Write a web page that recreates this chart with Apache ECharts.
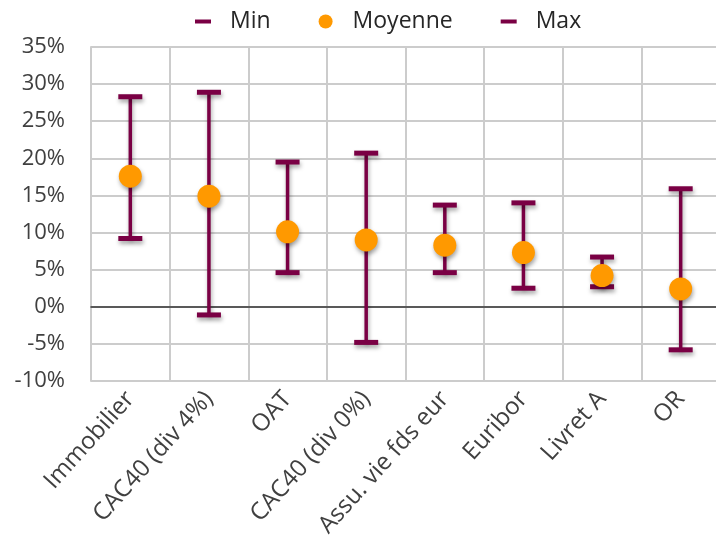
<!DOCTYPE html>
<html>
<head>
<meta charset="utf-8">
<script src="https://cdn.jsdelivr.net/npm/echarts@6/dist/echarts.min.js"></script>
<style>
  html, body { margin: 0; padding: 0; background: #fff; }
  #chart { width: 716px; height: 538px; }
</style>
</head>
<body>
<div id="chart"></div>
<script>
// Rendements annuels (%) par classe d'actifs
const categories = ['Immobilier', 'CAC40 (div 4%)', 'OAT', 'CAC40 (div 0%)', 'Assu. vie fds eur', 'Euribor', 'Livret A', 'OR'];
const minValues  = [9.2, -1.1, 4.6, -4.8, 4.6, 2.5, 2.7, -5.8];
const meanValues = [17.6, 14.9, 10.1, 9.0, 8.3, 7.3, 4.2, 2.4];
const maxValues  = [28.3, 28.9, 19.5, 20.7, 13.7, 14.0, 6.7, 15.9];
const yTicks = { min: -10, max: 35, step: 5 };

const maroon = '#7A0044';
const orange = '#FF9900';
const shadow = { shadowBlur: 4, shadowOffsetX: 1, shadowOffsetY: 3, shadowColor: 'rgba(0,0,0,0.35)' };
const font = '"Open Sans", sans-serif';

const rangeData = categories.map((c, i) => [i, minValues[i], maxValues[i]]);
const dashIcon = 'path://M0,0L16,0L16,4L0,4Z';

const chart = echarts.init(document.getElementById('chart'), null, { renderer: 'canvas' });
chart.setOption({
  animation: false,
  backgroundColor: '#fff',
  textStyle: { fontFamily: font },
  legend: {
    top: 10,
    left: 195,
    padding: 0,
    itemGap: 48,
    itemWidth: 16,
    itemHeight: 14,
    textStyle: { fontFamily: font, fontSize: 23, color: '#262626', padding: [0, 0, 0, 14] },
    data: [
      { name: 'Min', icon: dashIcon, itemStyle: { opacity: 1 } },
      { name: 'Moyenne', icon: 'circle', itemStyle: { opacity: 1 } },
      { name: 'Max', icon: dashIcon, itemStyle: { opacity: 1 } }
    ]
  },
  grid: { left: 91, width: 629, top: 47, bottom: 157, outerBoundsMode: 'none', containLabel: false },
  xAxis: {
    type: 'category',
    data: categories,
    boundaryGap: true,
    axisLine: { onZero: true, lineStyle: { color: '#333', width: 1.5 } },
    axisTick: { show: false },
    splitLine: { show: true, lineStyle: { color: '#CCCCCC', width: 2 } },
    axisLabel: {
      interval: 0,
      rotate: 48,
      margin: 14,
      fontFamily: font,
      fontSize: 24,
      color: '#404040'
    }
  },
  yAxis: {
    type: 'value',
    min: yTicks.min,
    max: yTicks.max,
    interval: yTicks.step,
    axisLine: { show: true, lineStyle: { color: '#CCCCCC', width: 2 } },
    axisTick: { show: false },
    splitLine: { lineStyle: { color: '#CCCCCC', width: 2 } },
    axisLabel: {
      margin: 26,
      fontFamily: font,
      fontSize: 22,
      color: '#404040',
      formatter: v => v + '%'
    }
  },
  series: [
    {
      name: 'range',
      type: 'custom',
      z: 2,
      data: rangeData,
      renderItem: (params, api) => {
        const lo = api.coord([api.value(0), api.value(1)]);
        const hi = api.coord([api.value(0), api.value(2)]);
        return {
          type: 'line',
          shape: { x1: lo[0], y1: lo[1], x2: hi[0], y2: hi[1] },
          style: Object.assign({ stroke: maroon, lineWidth: 3.5 }, shadow)
        };
      }
    },
    {
      name: 'Min',
      type: 'scatter',
      z: 3,
      symbol: 'rect',
      symbolSize: [24, 5],
      itemStyle: Object.assign({ color: maroon, opacity: 1 }, shadow),
      data: minValues
    },
    {
      name: 'Max',
      type: 'scatter',
      z: 3,
      symbol: 'rect',
      symbolSize: [24, 5],
      itemStyle: Object.assign({ color: maroon, opacity: 1 }, shadow),
      data: maxValues
    },
    {
      name: 'Moyenne',
      type: 'scatter',
      z: 4,
      symbol: 'circle',
      symbolSize: 23,
      itemStyle: Object.assign({ color: orange, opacity: 1 }, shadow),
      data: meanValues
    }
  ]
});
</script>
</body>
</html>
